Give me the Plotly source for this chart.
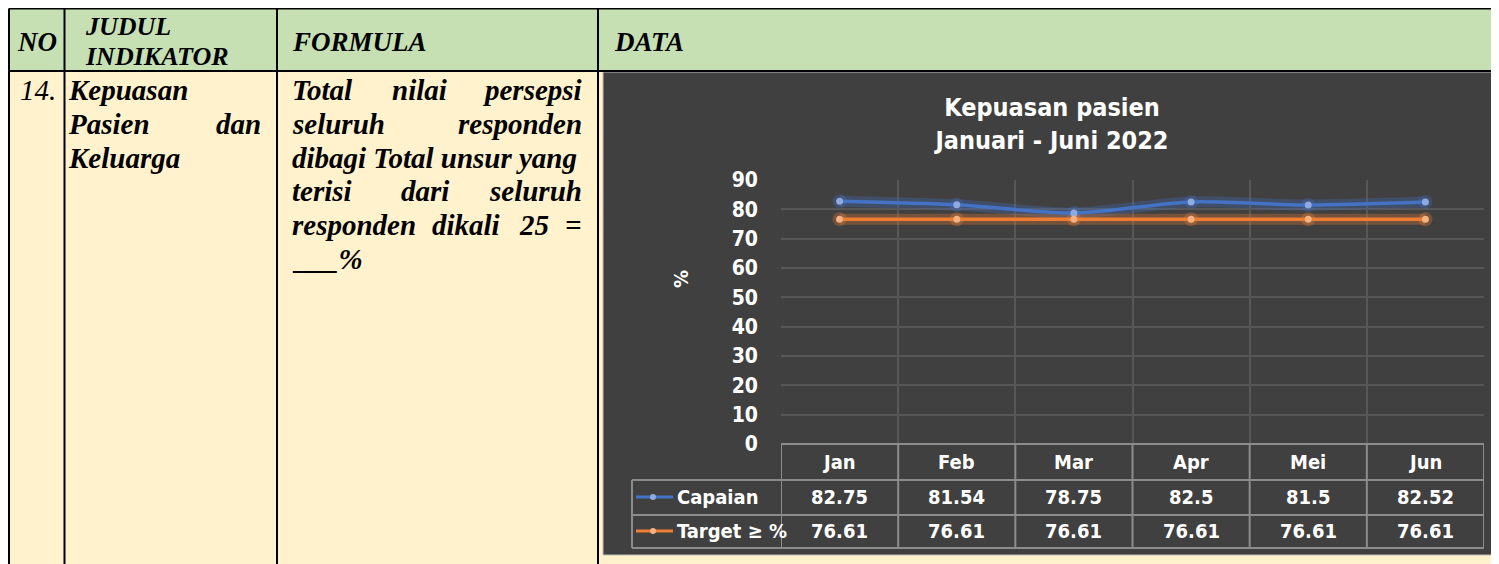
import plotly.graph_objects as go

# page size in pixels; the page body adds an 8px margin, so positions
# measured on the page are shifted back by OFF
W, H = 1499, 564
OFF = 8

# ---- data ----
months = ["Jan", "Feb", "Mar", "Apr", "Mei", "Jun"]
capaian = [82.75, 81.54, 78.75, 82.5, 81.5, 82.52]
target = [76.61, 76.61, 76.61, 76.61, 76.61, 76.61]
series_names = ["Capaian", "Target \u2265 %"]
y_ticks = [0, 10, 20, 30, 40, 50, 60, 70, 80, 90]

header_cols = ["NO", "FORMULA", "DATA"]
chart_title = "Kepuasan pasien<br>Januari - Juni 2022"

BLUE = "#4472C4"
ORANGE = "#ED7D31"
CHART_BG = "#404040"
GRID = "#575757"
TABLE_LINE = "#8C8C8C"
SERIF = "Liberation Serif, Times New Roman, serif"
NARROW = "Liberation Sans Narrow, Arial Narrow, DejaVu Sans Condensed, sans-serif"


def fx(x):
    return max(x - OFF, 1) / W


def fy(y):
    return 1 - (y - OFF) / H


shapes = []
annotations = []


def rect(x0, y0, x1, y1, fill, line_color=None, width=0, layer="below"):
    shapes.append(dict(type="rect", xref="paper", yref="paper",
                       x0=fx(x0), x1=fx(x1), y0=fy(y1), y1=fy(y0),
                       fillcolor=fill, layer=layer,
                       line=dict(color=line_color or fill, width=width)))


def line(x0, y0, x1, y1, color="black", width=1.5, xref="paper"):
    if xref == "paper":
        x0, x1 = fx(x0), fx(x1)
    shapes.append(dict(type="line", xref=xref, yref="paper",
                       x0=x0, x1=x1, y0=fy(y0), y1=fy(y1),
                       line=dict(color=color, width=width), layer="above"))


def text(x, y, s, size=29, anchor="left", color="black", family=SERIF,
         weight="bold", style="italic", xref="paper", angle=0):
    if xref == "paper":
        x = fx(x)
    annotations.append(dict(x=x, y=fy(y), xref=xref, yref="paper", text=s,
                            showarrow=False, xanchor=anchor, yanchor="middle",
                            textangle=angle,
                            font=dict(family=family, size=size, color=color,
                                      weight=weight, style=style)))


# ---- document table ----
rect(7, 9, 1520, 71, "#C6E0B4")
rect(7, 71, 1520, 580, "#FFF2CC")
for yy in (8.5, 71):
    line(7, yy, 1520, yy, width=2)
for xx in (7, 64.5, 277, 598):
    line(xx, 8.5, xx, 580, width=2)

text(15, 42, header_cols[0], size=27)
text(83, 27, "JUDUL", size=26)
text(83, 56, "INDIKATOR", size=26)
text(290, 42, header_cols[1], size=27)
text(612, 42, header_cols[2], size=27)

text(58, 90, "14.", anchor="right", weight="normal")
text(66, 90, "Kepuasan")
text(66, 124, "Pasien")
text(263, 124, "dan", anchor="right")
text(66, 158, "Keluarga")

# justified formula text, one entry per word: (x, anchor)
formula_lines = [
    (90, [("Total", 290, "left"), ("nilai", 419, "center"), ("persepsi", 584, "right")]),
    (124, [("seluruh", 290, "left"), ("responden", 584, "right")]),
    (158, [("dibagi Total unsur yang", 290, "left")]),
    (191, [("terisi", 290, "left"), ("dari", 425, "center"), ("seluruh", 584, "right")]),
    (225, [("responden", 290, "left"), ("dikali", 466, "center"),
           ("25", 534, "center"), ("=", 584, "right")]),
    (259, [("___%", 290, "left")]),
]
for yy, words in formula_lines:
    for w, xx, anc in words:
        text(xx, yy, w, anchor=anc)

# ---- chart box ----
rect(603, 72, 1520, 555, CHART_BG, "#BFBFBF", 1)

# data table under the plot
for yy in (480, 515, 548):
    line(632, yy, 1484, yy, TABLE_LINE, 2)
line(781, 444, 1484, 444, TABLE_LINE, 2)
line(632, 480, 632, 548, TABLE_LINE, 2)
for i in range(len(months) + 1):
    shapes.append(dict(type="line", xref="x", yref="paper", x0=i - 0.5, x1=i - 0.5,
                       y0=fy(548), y1=fy(444), layer="above",
                       line=dict(color=TABLE_LINE, width=2)))

for i, m in enumerate(months):
    text(m, 462, m, size=20, anchor="center", color="white", family=NARROW,
         style="normal", xref="x")
    text(m, 497, f"{capaian[i]:g}", size=20, anchor="center", color="white",
         family=NARROW, style="normal", xref="x")
    text(m, 531, f"{target[i]:g}", size=20, anchor="center", color="white",
         family=NARROW, style="normal", xref="x")

# legend keys in the table
for yy, col, light, name in ((497, BLUE, "#8FAADC", series_names[0]),
                             (531, ORANGE, "#F4B183", series_names[1])):
    line(636, yy, 673, yy, col, 3)
    shapes.append(dict(type="circle", xref="paper", yref="paper",
                       x0=fx(650), x1=fx(656), y0=fy(yy + 3), y1=fy(yy - 3),
                       fillcolor=light, line=dict(width=0), layer="above"))
    text(675, yy, name, size=20, color="white", family=NARROW, style="normal")

text(681, 279, "%", size=20, anchor="center", color="white", family=NARROW,
     style="normal", angle=-90)

fig = go.Figure()

# glow under each line
for vals, col in ((capaian, "rgba(68,114,196,0.3)"), (target, "rgba(237,125,49,0.3)")):
    fig.add_trace(go.Scatter(x=months, y=vals, mode="lines+markers",
                             line=dict(color=col, width=11, shape="spline", smoothing=0.8),
                             marker=dict(size=14, color=col),
                             hoverinfo="skip", showlegend=False))

fig.add_trace(go.Scatter(x=months, y=capaian, name=series_names[0], mode="lines+markers",
                         line=dict(color=BLUE, width=3.5, shape="spline", smoothing=0.8),
                         marker=dict(size=7, color="#8FAADC")))
fig.add_trace(go.Scatter(x=months, y=target, name=series_names[1], mode="lines+markers",
                         line=dict(color=ORANGE, width=3.5),
                         marker=dict(size=7, color="#F4B183")))

fig.update_layout(
    width=W, height=H,
    margin=dict(l=0, r=0, t=0, b=0, pad=0, autoexpand=False),
    paper_bgcolor="white",
    plot_bgcolor="rgba(0,0,0,0)",
    showlegend=False,
    shapes=shapes,
    annotations=annotations,
    title=dict(text=chart_title, x=fx(1052), xanchor="center", y=fy(116), yanchor="middle",
               xref="paper", yref="paper", automargin=False,
               font=dict(family=NARROW, size=25, color="white", weight="bold")),
    xaxis=dict(domain=[fx(781), fx(1484)], type="category", range=[-0.5, 5.5],
               tickson="boundaries", showgrid=True, gridcolor=GRID, gridwidth=1.5,
               showticklabels=False, ticks="", zeroline=False, showline=False,
               automargin=False),
    yaxis=dict(domain=[fy(444), fy(180)], range=[0, 90], tickvals=y_ticks,
               showgrid=True, gridcolor=GRID, gridwidth=1.5, zeroline=False,
               showline=False, ticks="", ticklabelstandoff=22, automargin=False,
               tickfont=dict(family=NARROW, size=21, color="white", weight="bold")),
)

fig.write_html("out.html")
